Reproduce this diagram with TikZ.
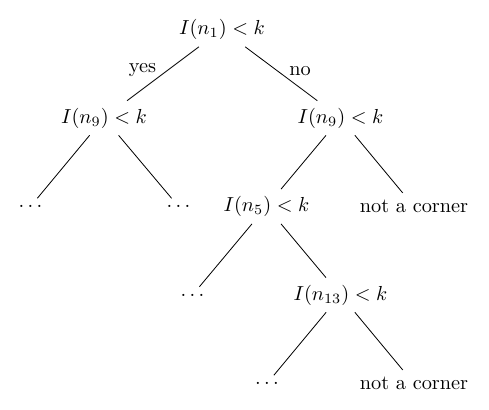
\documentclass[tikz,border=0pt]{standalone}
\begin{document}
\begin{tikzpicture}[x=0.4926pt,y=-0.4926pt,
  tn/.style={inner sep=0.3333em},
  lbl/.style={inner sep=0pt},
  edge/.style={draw=black,line width=0.4pt}]
\useasboundingbox (0,0) rectangle (489,409);
\node[tn] (R)   at (222,29.5) {$I(n_1) < k$};
\node[tn] (L)   at (104,118)  {$I(n_9) < k$};
\node[tn] (Rr)  at (340.5,118) {$I(n_9) < k$};
\node[tn] (LL)  at (30.5,206.5) {$\dots$};
\node[tn] (LR)  at (178.5,206.5) {$\dots$};
\node[tn] (N5)  at (266.5,206.5) {$I(n_5) < k$};
\node[tn] (C1)  at (414,206.5) {not a corner};
\node[tn] (D3)  at (192.5,295) {$\dots$};
\node[tn] (N13) at (340.5,295) {$I(n_{13}) < k$};
\node[tn] (D4)  at (267,383.5) {$\dots$};
\node[tn] (C2)  at (414,383.5) {not a corner};
\draw[edge] (R) -- (L);
\draw[edge] (R) -- (Rr);
\draw[edge] (L) -- (LL);
\draw[edge] (L) -- (LR);
\draw[edge] (Rr) -- (N5);
\draw[edge] (Rr) -- (C1);
\draw[edge] (N5) -- (D3);
\draw[edge] (N5) -- (N13);
\draw[edge] (N13) -- (D4);
\draw[edge] (N13) -- (C2);
\node[lbl] (yes) at (142.5,70) {yes};
\node[lbl] (no)  at (300,71) {no};
\end{tikzpicture}
\end{document}
